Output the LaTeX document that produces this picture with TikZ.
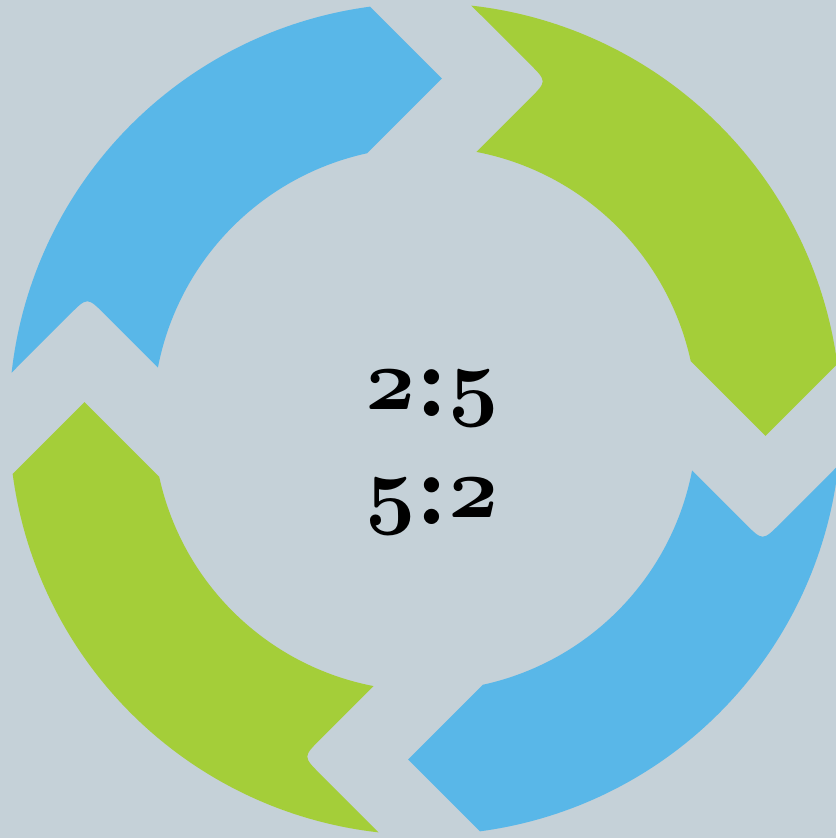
\documentclass[tikz,border=0pt]{standalone}
\definecolor{bgray}{RGB}{197,209,216}
\definecolor{cblue}{RGB}{89,183,232}
\definecolor{cgreen}{RGB}{164,206,57}
% one arrow of the cycle, centred at the origin
\newcommand{\cyclepiece}{(97.6:416) -- (16.8,340.5) -- (102.3:272)
  arc[start angle=102.3, end angle=169.1, radius=272]
  -- (-320.0,104.4) .. controls (-337.7,122.1) .. (-355.4,104.4)
  -- (173.6:416) arc[start angle=173.6, end angle=97.6, radius=416] -- cycle}
\newcommand{\osn}[1]{{\usefont{OML}{cmm}{bx}{it}#1}}
\newcommand{\rcolon}{\raisebox{-0.06em}{:}}
\begin{document}
\begin{tikzpicture}[x=0.01cm, y=0.01cm]
	\useasboundingbox (0,0) rectangle (836,838);
	\clip (0,0) rectangle (836,838);
	\fill[bgray] (0,0) rectangle (836,838);
	\begin{scope}[shift={(425,419)}]
		\fill[cblue] \cyclepiece;
		\fill[cgreen, rotate=-90] \cyclepiece;
		\fill[cblue, rotate=-180] \cyclepiece;
		\fill[cgreen, rotate=-270] \cyclepiece;
	\end{scope}
	\node[align=center, inner sep=0pt, font=\fontsize{30}{30.7}\selectfont\bfseries] (ratio) at (432,386)
		{\osn{2}\rcolon\osn{5}\\\osn{5}\rcolon\osn{2}};
\end{tikzpicture}
\end{document}
